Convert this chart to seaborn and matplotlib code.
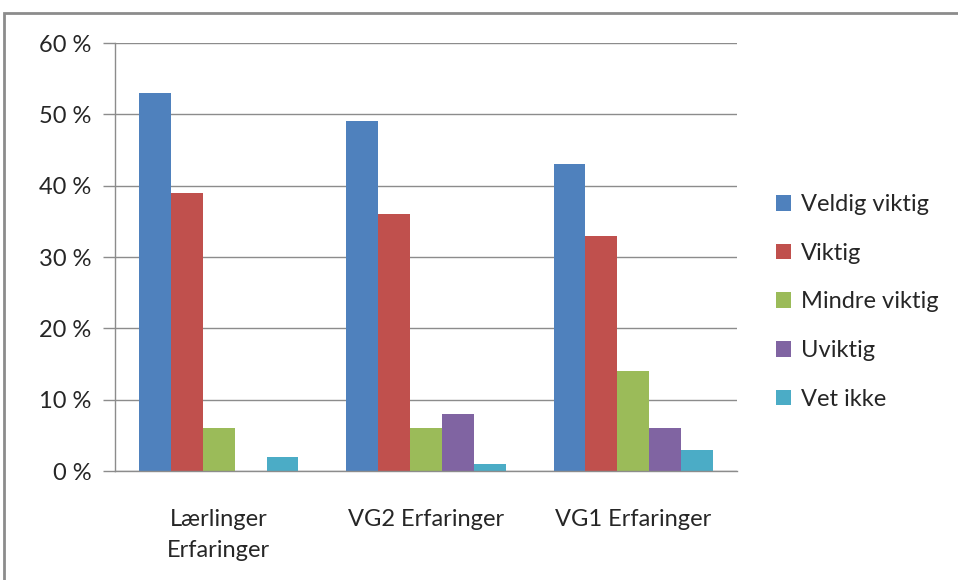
import pandas as pd
import matplotlib.pyplot as plt
import seaborn as sns
from matplotlib.patches import Rectangle, Patch
from matplotlib.ticker import FixedLocator

groups = ["Lærlinger\nErfaringer", "VG2 Erfaringer", "VG1 Erfaringer"]
series = ["Veldig viktig", "Viktig", "Mindre viktig", "Uviktig", "Vet ikke"]
veldig_viktig = [53, 49, 43]
viktig = [39, 36, 33]
mindre_viktig = [6, 6, 14]
uviktig = [0, 8, 6]
vet_ikke = [2, 1, 3]
colors = ["#4F81BD", "#C0504D", "#9BBB59", "#8064A2", "#4BACC6"]

values = [veldig_viktig, viktig, mindre_viktig, uviktig, vet_ikke]
rows = []
for s, vals in zip(series, values):
    for g, v in zip(groups, vals):
        rows.append({"group": g, "serie": s, "value": v})
df = pd.DataFrame(rows)

sns.set_style("white")
plt.rcParams["font.family"] = ["Lato", "DejaVu Sans"]

fig = plt.figure(figsize=(9.58, 5.8), dpi=100)
ax = fig.add_axes([115 / 958, 1 - 471 / 580, (737 - 115) / 958, (471 - 43) / 580])

sns.barplot(data=df, x="group", y="value", hue="serie", palette=colors,
            width=0.77, saturation=1, linewidth=0, ax=ax, legend=False)

ax.set_ylim(0, 60)
ax.set_xlim(-0.5, 2.5)
ax.set_yticks(range(0, 61, 10))
ax.set_yticklabels([f"{v} %" for v in range(0, 61, 10)], fontsize=17)
ax.yaxis.grid(True, color="#8c8c8c", linewidth=1)
ax.set_axisbelow(True)
ax.set_xlabel("")
ax.set_ylabel("")
ax.tick_params(axis="x", length=0, labelsize=17)
for lbl in ax.get_xticklabels():
    lbl.set_linespacing(1.6)
    lbl.set_verticalalignment("top")
ax.tick_params(axis="x", pad=27)
ax.xaxis.set_minor_locator(FixedLocator([-0.5, 0.5, 1.5, 2.5]))
ax.tick_params(axis="x", which="minor", length=8, color="#8c8c8c", width=1)
ax.tick_params(axis="y", length=9, color="#8c8c8c", width=1, left=True, pad=8)
for side in ["top", "right"]:
    ax.spines[side].set_visible(False)
for side in ["left", "bottom"]:
    ax.spines[side].set_color("#8c8c8c")
    ax.spines[side].set_linewidth(1)

handles = [Patch(facecolor=c, edgecolor="none") for c in colors]
fig.legend(handles, series, loc="center left", bbox_to_anchor=(776 / 958, 1 - 302 / 580),
           frameon=False, fontsize=17, handlelength=0.65, handleheight=0.65,
           handletextpad=0.4, labelspacing=1.17, borderpad=0, borderaxespad=0)

# outer chart frame (cut off at right and bottom)
fig.patches.append(Rectangle((4 / 958, -0.1), 1.2, 1 - 13 / 580 + 0.1,
                             transform=fig.transFigure, fill=False,
                             edgecolor="#8c8c8c", linewidth=2))

fig.savefig("out.png", dpi=100)
